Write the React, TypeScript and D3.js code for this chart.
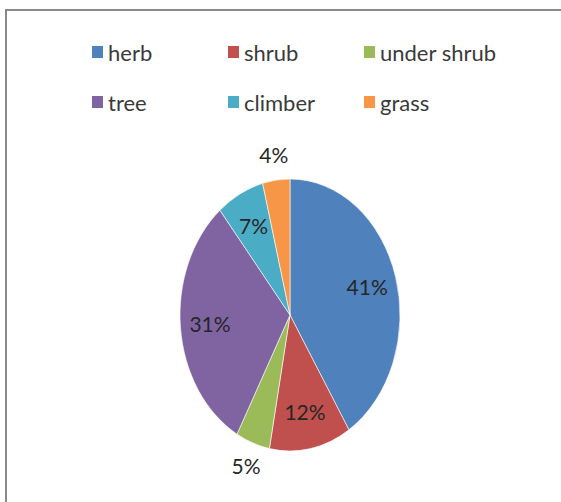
import React from "react";
import * as d3 from "d3";

const categories = ["herb", "shrub", "under shrub", "tree", "climber", "grass"];
const values = [41, 12, 5, 31, 7, 4];
const colors = ["#4F81BD", "#C0504D", "#9BBB59", "#8064A2", "#4BACC6", "#F79646"];
const labelOutside = [false, false, true, false, false, true];

const W = 561;
const H = 502;
const cx = 290;
const cy = 315;
const rx = 110;
const ry = 136;

export default function App() {
  const pie = d3.pie<number>().sort(null).value((d) => d);
  const arcs = pie(values);
  const arc = d3.arc<d3.PieArcDatum<number>>().innerRadius(0).outerRadius(rx);
  const sy = ry / rx;

  const labelPos = (a: d3.PieArcDatum<number>, i: number) => {
    const mid = (a.startAngle + a.endAngle) / 2;
    const r = labelOutside[i] ? rx + 20 : rx * 0.73;
    return [cx + Math.sin(mid) * r, cy - Math.cos(mid) * r * sy];
  };

  const legendCols = [92, 228, 364];
  const legendRows = [52, 102];

  return (
    <svg
      width={W}
      height={H}
      style={{ position: "absolute", left: 0, top: 0, background: "#fff" }}
      fontFamily="Lato, 'Open Sans', sans-serif"
    >
      <rect x={6} y={10} width={W + 20} height={H + 20} fill="#fff" stroke="#8a8a8a" strokeWidth={2} />
      {categories.map((c, i) => {
        const x = legendCols[i % 3];
        const y = legendRows[Math.floor(i / 3)];
        return (
          <g key={c}>
            <rect x={x} y={y - 6} width={11} height={12} fill={colors[i]} />
            <text x={x + 16} y={y + 9} fontSize={22} fill="#3a3a3a">
              {c}
            </text>
          </g>
        );
      })}
      <g transform={`translate(${cx},${cy}) scale(1,${sy})`}>
        {arcs.map((a, i) => (
          <path key={i} d={arc(a) || ""} fill={colors[i]} stroke="#fff" strokeWidth={0.6} vectorEffect="non-scaling-stroke" />
        ))}
      </g>
      {arcs.map((a, i) => {
        const [x, y] = labelPos(a, i);
        return (
          <text key={i} x={x} y={y} dy="0.35em" textAnchor="middle" fontSize={21} fill="#262626">
            {values[i]}%
          </text>
        );
      })}
    </svg>
  );
}
